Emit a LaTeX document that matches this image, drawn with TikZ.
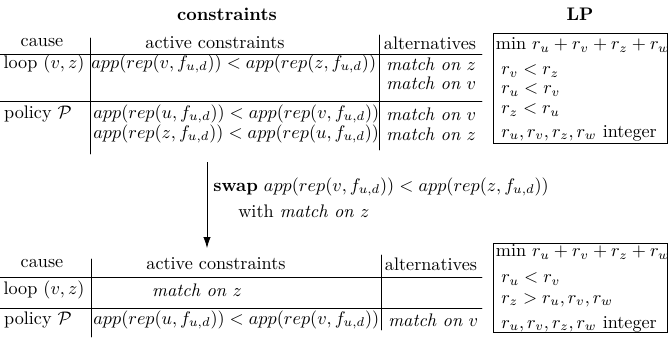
\documentclass[tikz,border=0pt]{standalone}
\usepackage{amsmath}
\usepackage{amssymb}
\usepackage{tikz}
\usetikzlibrary{calc}
\usepackage{tkz-euclide}

\newcommand{\appc}[2]{app(rep(#1,f_{u,d})) < app(rep(#2,f_{u,d}))}
\newcommand{\mon}[1]{\textit{match on} $#1$}

\begin{document}
\begin{tikzpicture}[x=0.55pt,y=-0.55pt,
    cell/.style={inner sep=0pt},
    lft/.style={inner sep=0pt, anchor=west}]
        \useasboundingbox (0,0) rectangle (668,337);
        % top table
        \tkzDefPoints{0/54/HA,482/54/HB,0/101/HC,482/101/HD,
                      90/38/VA,90/154/VB,379/35/VC,379/150/VD}
        \tkzDrawSegments[thin](HA,HB HC,HD VA,VB VC,VD)
        \node[cell] (tcons) at (227,14) {\textbf{constraints}};
        \node[cell] (tlp) at (580,14) {\textbf{LP}};
        \node[cell] (tcause) at (42,43) {cause};
        \node[cell] (tactive) at (215,43) {active constraints};
        \node[cell] (talt) at (430,43) {alternatives};
        \node[cell] (tloop) at (44,64) {loop $(v,z)$};
        \node[lft] (tla) at (91,64) {$\appc{v}{z}$};
        \node[lft] (tlb) at (386,64) {\mon{z}};
        \node[lft] (tlc) at (386,83) {\mon{v}};
        \node[cell] (tpol) at (38,114) {policy $\mathcal{P}$};
        \node[lft] (tpa) at (93,114) {$\appc{u}{v}$};
        \node[lft] (tpb) at (93,134) {$\appc{z}{u}$};
        \node[lft] (tpc) at (386,114) {\mon{v}};
        \node[lft] (tpd) at (386,134) {\mon{z}};
        % LP before
        \draw[thin] (493,33) rectangle (667,143);
        \node[lft] (lpa) at (495.5,45) {min $r_u+r_v+r_z+r_w$};
        \node[lft] (lpb) at (501,71) {$r_v<r_z$};
        \node[lft] (lpc) at (501,90) {$r_u<r_v$};
        \node[lft] (lpd) at (501,110) {$r_z<r_u$};
        \node[lft] (lpe) at (501,133) {$r_u,r_v,r_z,r_w$ integer};

        % the swap step
        \coordinate (arrtop) at (207,162);
        \coordinate (arrbot) at (207,248);
        \draw[-{Latex[length=6pt,width=4pt]}] (arrtop) -- (arrbot);
        \node[lft] (swapa) at (213,187) {\textbf{swap} $\appc{v}{z}$};
        \node[lft] (swapb) at (238,211) {with \mon{z}};

        % bottom table
        \tkzDefPoints{0/277/HE,482/277/HF,0/308/HG,482/308/HH,
                      91/259/VE,91/337/VF,381/255/VG,381/330/VH}
        \tkzDrawSegments[thin](HE,HF HG,HH VE,VF VG,VH)
        \node[cell] (bcause) at (42,264) {cause};
        \node[cell] (bactive) at (216,264) {active constraints};
        \node[cell] (balt) at (431,264) {alternatives};
        \node[cell] (bloop) at (44,290) {loop $(v,z)$};
        \node[cell] (bla) at (197,290) {\mon{z}};
        \node[cell] (bpol) at (38,320) {policy $\mathcal{P}$};
        \node[lft] (bpa) at (93,320) {$\appc{u}{v}$};
        \node[lft] (bpb) at (388,320) {\mon{v}};
        % LP after
        \draw[thin] (493,243) rectangle (667,332);
        \node[lft] (lpf) at (495.5,252) {min $r_u+r_v+r_z+r_w$};
        \node[lft] (lpg) at (501,279) {$r_u<r_v$};
        \node[lft] (lph) at (501,300) {$r_z>r_u,r_v,r_w$};
        \node[lft] (lpi) at (501,324) {$r_u,r_v,r_z,r_w$ integer};
\end{tikzpicture}
\end{document}
